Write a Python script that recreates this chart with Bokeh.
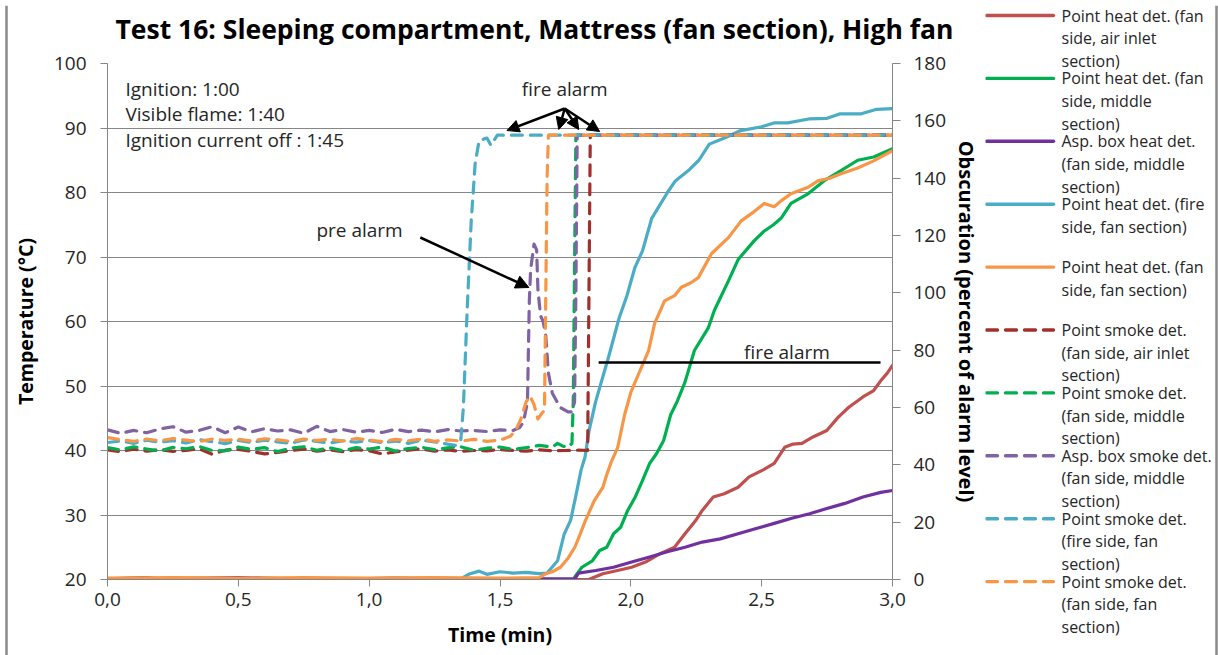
from bokeh.plotting import figure
from bokeh.models import (Range1d, LinearAxis, FixedTicker, CustomJSTickFormatter,
                          Label, Arrow, NormalHead)
from bokeh.layouts import row, column
from bokeh.embed import file_html
from bokeh.resources import INLINE
from bokeh.core.properties import value

FONT = "Open Sans"
GRID = "#868686"
TXT = "#262626"
FRAME = "#8a8a8a"

title_text = "Test 16: Sleeping compartment, Mattress (fan section), High fan"
x_ticks = [0.0, 0.5, 1.0, 1.5, 2.0, 2.5, 3.0]
y_ticks_left = [20, 30, 40, 50, 60, 70, 80, 90, 100]
y_ticks_right = [0, 20, 40, 60, 80, 100, 120, 140, 160, 180]

# ---- temperature series (deg C, left axis) ----
t_heat_inlet = [0.0, 0.3, 0.6, 0.9, 1.2, 1.5, 1.7, 1.839, 1.893, 1.949, 2.003, 2.056, 2.112, 2.167, 2.207,
                2.247, 2.273, 2.315, 2.357, 2.41, 2.452, 2.506, 2.548, 2.588, 2.62, 2.654, 2.696, 2.749,
                2.791, 2.833, 2.887, 2.928, 2.955, 2.98, 3.0]
T_heat_inlet = [20.0, 20.1, 20.0, 20.1, 20.0, 20.1, 20.0, 20.0, 20.9, 21.4, 21.9, 22.7, 24.0, 25.0, 27.1,
                29.1, 30.7, 32.8, 33.3, 34.3, 35.9, 37.0, 38.0, 40.5, 41.0, 41.1, 42.1, 43.1,
                45.1, 46.7, 48.3, 49.3, 50.8, 52.0, 53.2]

t_heat_mid = [0.0, 0.4, 0.8, 1.2, 1.6, 1.78, 1.786, 1.813, 1.853, 1.881, 1.908, 1.934, 1.961, 1.988, 2.017,
              2.044, 2.072, 2.098, 2.125, 2.152, 2.178, 2.207, 2.243, 2.296, 2.319, 2.373, 2.41, 2.471,
              2.509, 2.545, 2.574, 2.612, 2.677, 2.738, 2.803, 2.867, 2.928, 3.0]
T_heat_mid = [20.0, 20.1, 20.0, 20.1, 20.0, 20.0, 20.4, 21.9, 22.9, 24.5, 25.0, 27.1, 28.1, 30.7, 32.8,
              35.3, 38.0, 39.5, 41.5, 45.5, 47.7, 50.6, 55.5, 59.0, 61.7, 66.3, 69.6, 72.5,
              74.0, 75.0, 76.0, 78.3, 79.8, 81.8, 83.4, 85.0, 85.5, 86.8]

t_asp_heat = [0.0, 0.15, 0.2, 0.5, 0.8, 1.1, 1.4, 1.6, 1.786, 1.80, 1.866, 1.934, 2.003, 2.072, 2.139,
              2.207, 2.273, 2.342, 2.41, 2.479, 2.548, 2.615, 2.683, 2.749, 2.818, 2.887, 2.955, 3.0]
T_asp_heat = [20.1, 20.3, 20.1, 20.3, 20.0, 20.2, 20.0, 20.1, 20.1, 21.0, 21.4, 21.9, 22.7, 23.5, 24.3,
              25.0, 25.8, 26.3, 27.1, 27.9, 28.7, 29.5, 30.2, 31.0, 31.8, 32.8, 33.5, 33.8]

t_heat_fire = [0.0, 0.2, 0.4, 0.6, 0.8, 1.0, 1.2, 1.35, 1.38, 1.42, 1.45, 1.5, 1.55, 1.6, 1.65, 1.68, 1.72,
               1.745, 1.77, 1.79, 1.81, 1.825, 1.84, 1.865, 1.89, 1.915, 1.955, 1.985, 2.015, 2.045, 2.08,
               2.11, 2.14, 2.17, 2.22, 2.26, 2.30, 2.36, 2.42, 2.5, 2.55, 2.6, 2.68, 2.75, 2.8, 2.88,
               2.94, 3.0]
T_heat_fire = [20.1, 20.0, 20.1, 20.0, 20.0, 20.1, 20.0, 20.1, 20.8, 21.3, 20.8, 21.2, 21.0, 21.1, 20.9,
               21.0, 22.9, 27.0, 29.2, 33.0, 37.0, 39.0, 43.0, 47.5, 51.0, 54.5, 60.5, 64.0, 68.3, 71.0,
               76.0, 78.0, 80.0, 81.8, 83.4, 85.0, 87.5, 88.5, 89.6, 90.2, 90.8, 90.8, 91.4, 91.5, 92.2,
               92.2, 92.9, 93.0]

t_heat_fan = [0.0, 0.25, 0.5, 0.75, 1.0, 1.25, 1.5, 1.65, 1.676, 1.70, 1.731, 1.76, 1.786, 1.806, 1.826,
              1.86, 1.893, 1.91, 1.927, 1.95, 1.976, 2.0, 2.03, 2.068, 2.091, 2.129, 2.167, 2.193, 2.23,
              2.258, 2.308, 2.373, 2.422, 2.47, 2.51, 2.548, 2.574, 2.612, 2.677, 2.715, 2.76, 2.803,
              2.867, 2.928, 3.0]
T_heat_fan = [20.2, 20.3, 20.2, 20.3, 20.2, 20.3, 20.2, 20.3, 20.9, 21.2, 21.9, 23.3, 25.0, 27.0, 29.1,
              32.2, 34.3, 36.5, 38.4, 40.5, 45.5, 49.0, 51.9, 55.5, 59.7, 63.2, 64.0, 65.3, 66.0,
              66.8, 70.5, 73.0, 75.6, 77.0, 78.3, 77.8, 78.7, 79.8, 80.8, 81.8, 82.2, 82.9,
              83.8, 84.9, 86.5]

# ---- obscuration series (% of alarm level, right axis) ----
t_base = [0.00, 0.05, 0.10, 0.15, 0.20, 0.25, 0.30, 0.35, 0.40, 0.45, 0.50, 0.55, 0.60, 0.65, 0.70,
          0.75, 0.80, 0.85, 0.90, 0.95, 1.00, 1.05, 1.10, 1.15, 1.20, 1.25, 1.30]

t_smoke_inlet = t_base + [1.35, 1.40, 1.45, 1.50, 1.55, 1.60, 1.65, 1.70, 1.75, 1.80, 1.835, 1.84,
                          1.845, 2.5, 3.0]
O_smoke_inlet = [45.2, 44.6, 45.5, 44.8, 45.3, 44.7, 45.0, 45.6, 43.7, 45.1, 45.4, 44.7, 43.8, 44.3,
                 45.0, 45.5, 44.8, 45.2, 44.6, 45.3, 44.9, 43.8, 44.5, 45.1, 45.6, 44.8, 45.2,
                 44.7, 45.0, 44.9, 45.3, 45.0, 44.8, 45.2, 44.9, 45.0, 45.1, 45.0, 100.0,
                 155.0, 155.0, 155.0]

t_smoke_mid = t_base + [1.35, 1.40, 1.45, 1.50, 1.55, 1.60, 1.65, 1.70, 1.72, 1.74, 1.76, 1.775, 1.78,
                        1.785, 1.79, 2.5, 3.0]
O_smoke_mid = [46.0, 45.2, 46.3, 45.5, 44.8, 46.1, 45.6, 46.4, 45.0, 44.9, 46.2, 45.4, 46.0, 44.6,
               45.8, 46.3, 45.1, 45.9, 44.9, 46.0, 45.5, 46.2, 44.8, 45.7, 46.1, 45.3, 45.9,
               46.3, 45.1, 45.8, 46.2, 45.4, 46.0, 46.8, 46.2, 47.5, 46.5, 46.2, 47.5, 62.0,
               110.0, 155.0, 155.0, 155.0]

t_asp_smoke = t_base + [1.35, 1.40, 1.45, 1.50, 1.55, 1.575, 1.59, 1.605, 1.612, 1.617, 1.63, 1.64,
                        1.645, 1.655, 1.665, 1.675, 1.685, 1.70, 1.73, 1.76, 1.775, 1.785, 1.79,
                        1.795, 2.5, 3.0]
O_asp_smoke = [52.2, 51.0, 52.0, 51.2, 52.5, 53.3, 51.4, 52.0, 53.3, 51.2, 53.2, 51.5, 52.6, 51.8,
               52.2, 51.0, 53.4, 51.6, 52.3, 51.4, 52.0, 51.3, 52.4, 51.6, 52.1, 51.5, 52.3,
               51.8, 52.0, 51.6, 52.2, 52.0, 53.0, 55.0, 62.0, 97.0, 108.0, 117.0, 115.0,
               101.0, 92.0, 90.0, 85.0, 72.0, 65.0, 60.0, 58.5, 58.5, 62.0, 100.0,
               155.0, 155.0, 155.0]

t_smoke_fire = t_base + [1.33, 1.35, 1.36, 1.375, 1.39, 1.405, 1.42, 1.45, 1.465, 1.49, 2.5, 3.0]
O_smoke_fire = [47.8, 48.3, 47.5, 48.6, 47.9, 48.4, 47.6, 48.8, 48.1, 47.4, 48.5, 47.8, 48.6, 48.0,
                47.5, 48.7, 48.2, 47.6, 48.4, 47.9, 48.5, 47.7, 48.3, 47.5, 48.6, 48.0, 47.2,
                46.8, 48.5, 60.0, 95.0, 125.0, 145.0, 153.0, 154.0, 151.5, 155.0, 155.0, 155.0]

t_smoke_fan = t_base + [1.35, 1.40, 1.45, 1.50, 1.54, 1.56, 1.58, 1.60, 1.615, 1.63, 1.645, 1.66,
                        1.67, 1.675, 1.68, 1.685, 2.5, 3.0]
O_smoke_fan = [49.5, 48.8, 48.2, 49.0, 48.4, 49.2, 48.6, 48.1, 49.0, 48.5, 48.9, 48.3, 49.1, 48.7,
               48.2, 49.0, 48.5, 48.9, 48.3, 49.2, 48.6, 48.1, 48.9, 48.4, 49.0, 48.2, 48.7,
               48.3, 48.9, 48.2, 48.6, 50.0, 52.0, 56.0, 62.0, 64.0, 61.0, 56.0, 58.0,
               59.0, 100.0, 140.0, 155.0, 155.0, 155.0]

series_labels = [
    ["Point heat det. (fan", "side, air inlet", "section)"],
    ["Point heat det. (fan", "side, middle", "section)"],
    ["Asp. box heat det.", "(fan side, middle", "section)"],
    ["Point heat det. (fire", "side, fan section)"],
    ["Point heat det. (fan", "side, fan section)"],
    ["Point smoke det.", "(fan side, air inlet", "section)"],
    ["Point smoke det.", "(fan side, middle", "section)"],
    ["Asp. box smoke det.", "(fan side, middle", "section)"],
    ["Point smoke det.", "(fire side, fan", "section)"],
    ["Point smoke det.", "(fan side, fan", "section)"],
]
series_colors = ["#C0504D", "#00B050", "#7030A0", "#4BACC6", "#F79646",
                 "#A0302C", "#00B050", "#8064A2", "#4BACC6", "#F79646"]
series_dashed = [False] * 5 + [True] * 5
series_data = [
    (t_heat_inlet, T_heat_inlet), (t_heat_mid, T_heat_mid), (t_asp_heat, T_asp_heat),
    (t_heat_fire, T_heat_fire), (t_heat_fan, T_heat_fan),
    (t_smoke_inlet, O_smoke_inlet), (t_smoke_mid, O_smoke_mid), (t_asp_smoke, O_asp_smoke),
    (t_smoke_fire, O_smoke_fire), (t_smoke_fan, O_smoke_fan),
]
DASH = "11 8"

# ---------------- geometry (page pixels) ----------------
W, H = 1218, 655
TOP_H, LEFT_W, LEG_X, TITLE_H = 5, 8, 985, 46
MAIN_X, MAIN_Y = LEFT_W, TOP_H + TITLE_H
MAIN_W, MAIN_H = LEG_X - LEFT_W, H - MAIN_Y
PFL, PFR, PFT, PFB = 104, 892, 63, 579          # plot frame on the page
X0, X1, Y0, Y1 = 0.0, 3.0, 20.0, 100.0


def px2x(px):
    return X0 + (px - PFL) * (X1 - X0) / (PFR - PFL)


def py2y(py):
    return Y0 + (PFB - py) * (Y1 - Y0) / (PFB - PFT)


def blank(fig):
    fig.grid.visible = False
    fig.outline_line_color = None
    fig.background_fill_color = "white"
    fig.border_fill_color = "white"


def canvas(w, h):
    fig = figure(width=w, height=h, x_range=Range1d(0, w), y_range=Range1d(h, 0),
                 output_backend="svg", toolbar_location=None, x_axis_location=None,
                 y_axis_location=None, min_border=0, frame_align=False, title_location=None)
    blank(fig)
    return fig


main = figure(width=MAIN_W, height=MAIN_H, x_range=Range1d(X0, X1), y_range=Range1d(Y0, Y1),
              output_backend="svg", toolbar_location=None, frame_align=False, title_location=None,
              min_border_left=PFL - MAIN_X, min_border_right=MAIN_W - (PFR - MAIN_X),
              min_border_top=PFT - MAIN_Y, min_border_bottom=MAIN_H - (PFB - MAIN_Y))
main.extra_y_ranges = {"obs": Range1d(0, 180)}
main.outline_line_color = None
main.background_fill_color = "white"
main.border_fill_color = "white"

xa = main.xaxis[0]
xa.ticker = FixedTicker(ticks=x_ticks)
xa.formatter = CustomJSTickFormatter(code="return tick.toFixed(1).replace('.', ',');")
ya = main.yaxis[0]
ya.ticker = FixedTicker(ticks=y_ticks_left)
ra = LinearAxis(y_range_name="obs", ticker=FixedTicker(ticks=y_ticks_right))
main.add_layout(ra, "right")

for ax in (xa, ya, ra):
    ax.axis_line_color = GRID
    ax.major_tick_line_color = GRID
    ax.minor_tick_line_color = None
    ax.major_tick_in = 0
    ax.major_tick_out = 7
    ax.major_label_text_font = FONT
    ax.major_label_text_font_size = "19px"
    ax.major_label_text_color = TXT
    ax.axis_label_text_font = FONT
    ax.axis_label_text_font_style = "bold"
    ax.axis_label_text_color = "black"

xa.axis_label = "Time (min)"
xa.axis_label_text_font_size = "19.5px"
xa.major_label_standoff = 6
xa.axis_label_standoff = 12
ya.axis_label = "Temperature (°C)"
ya.axis_label_text_font_size = "19.5px"
ya.major_label_standoff = 14
ya.axis_label_standoff = 12
ra.axis_label = "Obscuration (percent of alarm level)"
ra.axis_label_text_font_size = "20px"
ra.major_label_standoff = 13
ra.major_tick_out = 8
ra.axis_label_standoff = 4

main.xgrid.visible = False
main.ygrid.ticker = FixedTicker(ticks=y_ticks_left)
main.ygrid.grid_line_color = GRID
main.ygrid.grid_line_width = 1

for (tx, vy), col, dashed in zip(series_data, series_colors, series_dashed):
    if dashed:
        main.line(tx, vy, y_range_name="obs", line_color=col, line_width=3.2,
                  line_dash=DASH, line_cap="round", line_join="round")
    else:
        main.line(tx, vy, line_color=col, line_width=3.2, line_cap="round", line_join="round")


# ---------------- annotations inside the plot area ----------------
def label(px, py, txt, size="19px", align="left"):
    main.add_layout(Label(x=px2x(px), y=py2y(py), text=txt, text_font=FONT, text_font_size=size,
                          text_color=TXT, text_baseline="middle", text_align=align))


def seg(px0, py0, px1, py1, head=None):
    main.add_layout(Arrow(end=head, x_start=px2x(px0), y_start=py2y(py0), x_end=px2x(px1),
                          y_end=py2y(py1), line_width=2.5, line_color="black"))


info_lines = ["Ignition: 1:00", "Visible flame: 1:40", "Ignition current off : 1:45"]
for i, txt in enumerate(info_lines):
    label(122, 88 + i * 25.5, txt)

label(563, 88, "fire alarm", align="center")
label(357, 229, "pre alarm", align="center")
label(786, 351, "fire alarm", align="center")

for ex, ey in [(505, 130), (557, 129), (577, 129), (598, 131)]:
    seg(563, 108, ex, ey, head=NormalHead(size=12, fill_color="black", line_color="black"))
seg(418, 237, 527, 287, head=NormalHead(size=13, fill_color="black", line_color="black"))
seg(597, 362, 880, 362)

# ---------------- title panel ----------------
title_fig = canvas(MAIN_W, TITLE_H)
title_fig.text(x=[115 - MAIN_X], y=[28.5 - TOP_H], text=[title_text], text_font=value(FONT),
               text_font_size="26.5px", text_font_style="bold", text_color="black",
               text_baseline="middle", text_align="left")

# ---------------- legend panel ----------------
LEG_W = W - LEG_X
leg = canvas(LEG_W, H - TOP_H)
for i, (labs, col, dashed) in enumerate(zip(series_labels, series_colors, series_dashed)):
    yy = 15 + i * 62.9 - TOP_H
    leg.line([986 - LEG_X, 1053 - LEG_X], [yy, yy], line_color=col, line_width=3.4,
             line_dash=DASH if dashed else "solid", line_cap="round")
    leg.text(x=[1061 - LEG_X] * len(labs), y=[yy + k * 22.6 for k in range(len(labs))], text=labs,
             text_font=value(FONT), text_font_size="16px", text_color=TXT,
             text_baseline="middle", text_align="left")
leg.line([1216 - LEG_X] * 2, [0, H - TOP_H], line_color=FRAME, line_width=2.5)

# ---------------- outer chart frame strips ----------------
top = canvas(W, TOP_H)
top.line([5, 1217], [2.5, 2.5], line_color=FRAME, line_width=2.5)

left = canvas(LEFT_W, H - TOP_H)
left.line([6, 6], [0, H - TOP_H], line_color=FRAME, line_width=2.5)

layout = column(top, row(left, column(title_fig, main), leg))
open("out.html", "w").write(file_html(layout, INLINE))
